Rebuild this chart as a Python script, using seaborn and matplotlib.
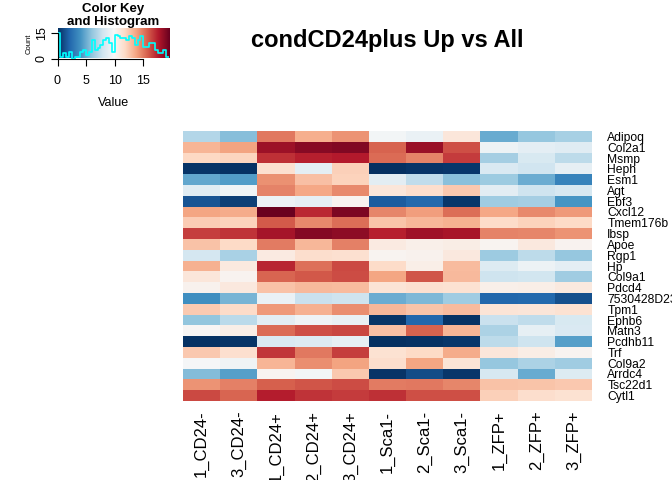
import numpy as np
import pandas as pd
import matplotlib
matplotlib.use("Agg")
import matplotlib.pyplot as plt
import seaborn as sns

# DATA
genes = ["Adipoq", "Col2a1", "Msmp", "Heph", "Esm1", "Agt", "Ebf3", "Cxcl12",
         "Tmem176b", "Ibsp", "Apoe", "Rgp1", "Hp", "Col9a1", "Pdcd4",
         "7530428D23Rik", "Tpm1", "Ephb6", "Matn3", "Pcdhb11", "Trf", "Col9a2",
         "Arrdc4", "Tsc22d1", "Cytl1"]

samples = ["1_CD24-", "3_CD24-", "1_CD24+", "2_CD24+", "3_CD24+",
           "1_Sca1-", "2_Sca1-", "3_Sca1-", "1_ZFP+", "2_ZFP+", "3_ZFP+"]

cd24neg_1 = [6.9, 13.1, 11.8, 0.2, 4.7, 8.6, 1.3, 13.6, 12.2, 16.5, 12.6, 8.0, 13.2,
             10.9, 10.2, 3.7, 12.3, 5.9, 9.9, 0.1, 12.4, 9.6, 5.5, 14.1, 16.2]
cd24neg_3 = [5.6, 13.7, 11.9, 0.1, 4.3, 9.4, 0.6, 13.4, 12.0, 16.8, 11.7, 6.6, 10.7,
             10.1, 10.8, 5.2, 11.6, 7.1, 10.4, 0.2, 11.4, 9.3, 4.4, 14.7, 15.4]
cd24pos_1 = [14.9, 18.1, 16.9, 11.3, 14.2, 14.6, 9.2, 19.4, 15.7, 17.9, 14.8, 10.6, 17.2,
             15.4, 12.6, 9.1, 14.0, 8.7, 15.3, 8.3, 16.7, 13.1, 10.0, 15.6, 17.4]
cd24pos_2 = [13.3, 18.6, 17.3, 8.8, 12.7, 13.5, 8.9, 17.1, 14.4, 18.7, 13.0, 11.5, 15.1,
             15.8, 12.9, 7.6, 13.2, 9.3, 16.0, 8.4, 14.9, 14.3, 9.5, 15.9, 16.8]
cd24pos_3 = [14.1, 18.8, 17.5, 12.1, 12.0, 14.4, 10.1, 18.9, 15.2, 18.5, 14.7, 11.3, 16.2,
             16.1, 12.8, 7.7, 14.3, 9.0, 16.3, 8.9, 16.5, 13.7, 12.4, 16.1, 16.6]
sca1neg_1 = [9.5, 15.5, 15.3, 0.0, 8.7, 10.9, 1.6, 14.5, 12.5, 17.3, 10.6, 10.0, 11.6,
             13.6, 11.1, 4.9, 13.0, 0.2, 12.7, 0.0, 11.2, 11.5, 0.2, 14.8, 16.9]
sca1neg_2 = [9.1, 18.2, 14.6, 0.2, 7.3, 11.5, 2.1, 13.8, 13.0, 18.0, 10.3, 10.2, 10.4,
             15.9, 11.3, 5.4, 12.5, 2.0, 15.5, 0.1, 11.7, 13.6, 1.0, 14.9, 16.0]
sca1neg_3 = [10.9, 16.0, 16.6, 0.3, 5.7, 12.4, 0.3, 15.2, 13.2, 17.8, 10.5, 10.8, 12.8,
             12.9, 11.2, 6.3, 12.8, 0.1, 13.1, 0.3, 13.4, 11.1, 0.3, 14.5, 16.0]
zfppos_1 = [4.8, 9.2, 6.4, 8.3, 6.2, 8.7, 6.3, 13.5, 11.6, 14.6, 10.0, 6.2, 8.4,
            7.7, 10.3, 2.0, 11.1, 7.6, 6.7, 7.2, 10.9, 6.0, 8.1, 12.6, 12.1]
zfppos_2 = [6.0, 8.8, 8.2, 7.8, 4.9, 7.7, 6.4, 14.4, 12.0, 14.5, 10.8, 7.2, 9.2,
            7.9, 10.4, 2.1, 11.0, 7.3, 8.9, 7.7, 10.5, 6.7, 4.8, 12.5, 11.5]
zfppos_3 = [6.5, 8.6, 7.2, 8.9, 3.2, 8.1, 4.0, 14.0, 11.7, 14.1, 10.1, 6.0, 8.8,
            6.3, 10.7, 1.2, 11.2, 8.2, 8.3, 4.4, 10.0, 6.3, 8.4, 12.4, 11.2]

columns = [cd24neg_1, cd24neg_3, cd24pos_1, cd24pos_2, cd24pos_3,
           sca1neg_1, sca1neg_2, sca1neg_3, zfppos_1, zfppos_2, zfppos_3]

expr = pd.DataFrame(dict(zip(samples, columns)), index=genes)

vmin, vmax = 0, 19.5
cmap = "RdBu_r"

# FIGURE
sns.set_theme(style="white")
plt.rcParams["font.family"] = ["Liberation Sans", "DejaVu Sans"]
plt.rcParams["text.color"] = "black"
plt.rcParams["axes.labelcolor"] = "black"
plt.rcParams["xtick.color"] = "black"
plt.rcParams["ytick.color"] = "black"

W, H = 672, 480
fig = plt.figure(figsize=(W / 100, H / 100), dpi=100)

# main heatmap
ax = fig.add_axes([183 / W, 1 - 401 / H, (592 - 183) / W, (401 - 131) / H])
sns.heatmap(expr, cmap=cmap, vmin=vmin, vmax=vmax, cbar=False, ax=ax,
            xticklabels=True, yticklabels=True)
ax.yaxis.tick_right()
ax.tick_params(axis="y", length=0, pad=11, labelsize=8.7, rotation=0)
ax.tick_params(axis="x", length=0, pad=7, labelsize=12, rotation=90)
for lbl in ax.get_yticklabels():
    lbl.set_horizontalalignment("left")
ax.set_xlabel("")
ax.set_ylabel("")

fig.text(387 / W, 1 - 40 / H, "condCD24plus Up vs All", ha="center", va="center",
         fontsize=17, fontweight="bold")

# color key with histogram
kx0, kx1, ky0, ky1 = 57.5, 169, 58.5, 28
ax_key = fig.add_axes([kx0 / W, 1 - ky0 / H, (kx1 - kx0) / W, (ky0 - ky1) / H])
ymax = 18
gradient = np.linspace(vmin, vmax, 256)[None, :]
ax_key.imshow(gradient, cmap=cmap, vmin=vmin, vmax=vmax, aspect="auto",
              extent=[vmin, vmax, 0, ymax], origin="lower")
sns.histplot(x=expr.values.ravel(), bins=np.arange(0, 20.0, 0.5), element="step",
             fill=False, color="cyan", linewidth=1.2, ax=ax_key)
ax_key.set_xlim(vmin, vmax)
ax_key.set_ylim(0, ymax)
for side in ["top", "right"]:
    ax_key.spines[side].set_visible(False)
ax_key.spines["bottom"].set_bounds(0, 15)
ax_key.spines["left"].set_bounds(0, 15)
for side in ["bottom", "left"]:
    ax_key.spines[side].set_color("black")
    ax_key.spines[side].set_linewidth(0.8)
ax_key.set_xticks([0, 5, 10, 15])
ax_key.set_yticks([0, 15])
ax_key.tick_params(axis="x", bottom=True, length=5, width=0.8, labelsize=9, pad=7)
ax_key.tick_params(axis="y", left=True, length=5, width=0.8, labelsize=9, pad=2)
for lbl in ax_key.get_yticklabels():
    lbl.set_rotation(90)
    lbl.set_verticalalignment("center")
ax_key.set_xlabel("Value", fontsize=9, labelpad=7)
ax_key.set_ylabel("Count", fontsize=5.5, labelpad=2)

fig.text(113 / W, 1 - 15.5 / H, "Color Key\nand Histogram", ha="center", va="center",
         fontsize=9.5, fontweight="bold", linespacing=1.05)

fig.savefig("out.png", dpi=100)
